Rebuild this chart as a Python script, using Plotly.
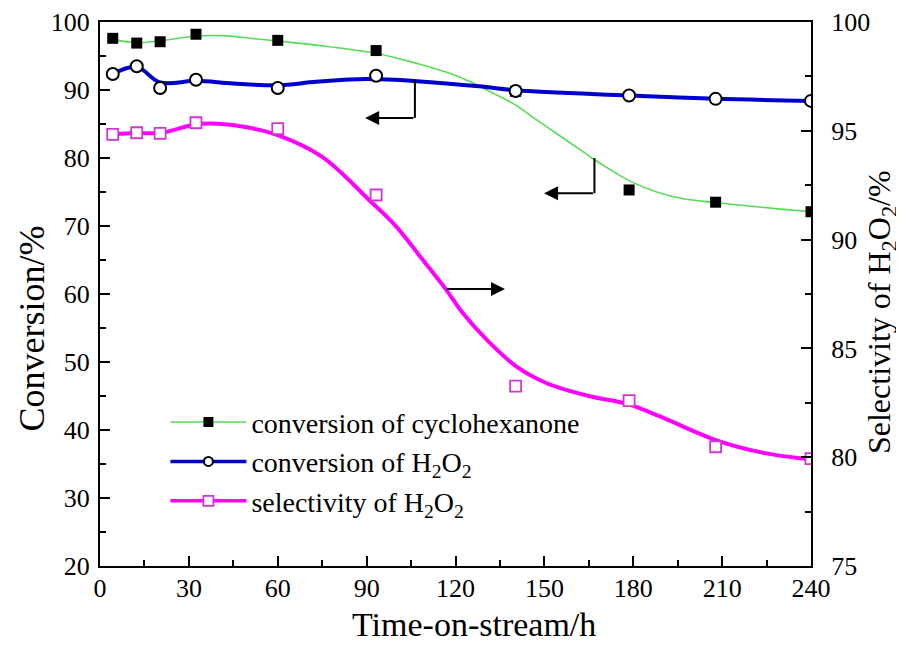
import plotly.graph_objects as go

# ---- data ----
time_pts = [4.3, 12.4, 20.3, 32.4, 60, 93.2, 140.3, 178.6, 207.8, 240]
conv_cyclo = [97.6, 96.9, 97.1, 98.2, 97.3, 95.8, 89.8, 75.3, 73.5, 72.1]
conv_h2o2 = [92.35, 93.5, 90.3, 91.5, 90.3, 92.1, 89.85, 89.2, 88.7, 88.4]
sel_h2o2 = [94.84, 94.91, 94.88, 95.37, 95.1, 92.05, 83.27, 82.6, 80.48, 79.93]

# smoothed curves as drawn in the reference
fit_t_cyclo = [4.3, 12.4, 20.3, 32.4, 41.6, 50.6, 60, 73, 93, 107, 118, 125, 130.5,
               139.5, 147.4, 156.4, 163.1, 167.1, 172.2, 178.9, 187.9, 196.9, 207.6,
               220, 230.6, 240]
fit_cyclo = [97.45, 96.96, 97.25, 97.94, 97.99, 97.6, 97.2, 96.6, 95.4, 93.9, 92.45,
             91.2, 90.0, 88.0, 85.6, 82.9, 80.9, 79.7, 78.3, 76.6, 75.0, 74.0, 73.45,
             72.9, 72.45, 72.1]

fit_t_h2o2 = [4.3, 12.4, 20.3, 32.4, 45, 60, 73, 90, 107, 129, 140.3, 178.6, 207.8, 240]
fit_h2o2 = [92.35, 93.4, 91.1, 91.35, 90.95, 90.7, 91.2, 91.6, 91.3, 90.5, 89.95,
            89.2, 88.7, 88.4]

fit_t_sel = [4.3, 12.4, 20.3, 32.4, 40, 50, 60, 75, 91, 100, 109, 116.5, 122.6, 130.5,
             140.6, 150.8, 165.4, 178, 189.4, 207.6, 224, 240]
fit_sel = [94.84, 94.9, 94.9, 95.3, 95.32, 95.15, 94.8, 93.8, 91.8, 90.6, 89.06, 87.76,
           86.6, 85.4, 84.16, 83.4, 82.8, 82.45, 81.85, 80.8, 80.2, 79.9]

x_ticks = [0, 30, 60, 90, 120, 150, 180, 210, 240]
y_ticks = [20, 30, 40, 50, 60, 70, 80, 90, 100]
y2_ticks = [75, 80, 85, 90, 95, 100]

names = ["conversion of cyclohexanone",
         "conversion of H<sub>2</sub>O<sub>2</sub>",
         "selectivity of H<sub>2</sub>O<sub>2</sub>"]
x_title = "Time-on-stream/h"
y_title = "Conversion/%"
y2_title = "Selectivity of H<sub>2</sub>O<sub>2</sub>/%"

# ---- styles ----
GREEN = "#55dd55"
BLUE = "#0000cc"
MAGENTA = "#ff00ff"
MAG_MK = "#d236d2"
FONT = "Liberation Serif"

fig = go.Figure()

# fitted curves
fig.add_trace(go.Scatter(x=fit_t_cyclo, y=fit_cyclo, mode="lines", line_shape="spline",
                         line=dict(color=GREEN, width=1.6), showlegend=False, hoverinfo="skip"))
fig.add_trace(go.Scatter(x=fit_t_h2o2, y=fit_h2o2, mode="lines", line_shape="spline",
                         line=dict(color=BLUE, width=4), showlegend=False, hoverinfo="skip"))
# data markers
fig.add_trace(go.Scatter(x=time_pts, y=conv_cyclo, mode="markers",
                         marker=dict(symbol="square", size=11, color="black"),
                         showlegend=False))
fig.add_trace(go.Scatter(x=time_pts, y=conv_h2o2, mode="markers",
                         marker=dict(symbol="circle", size=12, color="white",
                                     line=dict(color="black", width=2)),
                         showlegend=False))
fig.add_trace(go.Scatter(x=fit_t_sel, y=fit_sel, mode="lines", line_shape="spline",
                         line=dict(color=MAGENTA, width=4), showlegend=False,
                         hoverinfo="skip", yaxis="y2"))
fig.add_trace(go.Scatter(x=time_pts, y=sel_h2o2, mode="markers",
                         marker=dict(symbol="square", size=11, color="white",
                                     line=dict(color=MAG_MK, width=1.8)),
                         showlegend=False, yaxis="y2"))

# legend entries
fig.add_trace(go.Scatter(x=[None], y=[None], mode="lines+markers", name=names[0],
                         line=dict(color=GREEN, width=1.6),
                         marker=dict(symbol="square", size=10, color="black")))
fig.add_trace(go.Scatter(x=[None], y=[None], mode="lines+markers", name=names[1],
                         line=dict(color=BLUE, width=3.5),
                         marker=dict(symbol="circle", size=9, color="white",
                                     line=dict(color="black", width=2))))
fig.add_trace(go.Scatter(x=[None], y=[None], mode="lines+markers", name=names[2],
                         line=dict(color=MAGENTA, width=3.5),
                         marker=dict(symbol="square", size=10, color="white",
                                     line=dict(color=MAG_MK, width=1.8))))

# arrow indicators
arrow_h2o2 = dict(x=106.3, y_top=91.5, y_bot=85.9, tip=89.5)
arrow_cyclo = dict(x=166.9, y_top=80.0, y_bot=74.8, tip=149.9)
arrow_sel = dict(x0=116.5, tip=136.7, y=87.73)

shapes = []
for a in (arrow_h2o2, arrow_cyclo):
    shapes.append(dict(type="line", xref="x", yref="y", x0=a["x"], x1=a["x"],
                       y0=a["y_top"], y1=a["y_bot"], line=dict(color="black", width=2)))
annotations = []
for a in (arrow_h2o2, arrow_cyclo):
    annotations.append(dict(x=a["tip"], y=a["y_bot"], ax=a["x"], ay=a["y_bot"],
                            xref="x", yref="y", axref="x", ayref="y", text="",
                            showarrow=True, arrowhead=2, arrowsize=1.4, arrowwidth=2,
                            arrowcolor="black"))
annotations.append(dict(x=arrow_sel["tip"], y=arrow_sel["y"], ax=arrow_sel["x0"],
                        ay=arrow_sel["y"], xref="x", yref="y2", axref="x", ayref="y2",
                        text="", showarrow=True, arrowhead=2, arrowsize=1.4,
                        arrowwidth=2, arrowcolor="black"))

# axis titles placed as in the reference
annotations.append(dict(text=x_title, xref="paper", yref="paper", x=0.526, y=-0.108,
                        xanchor="center", yanchor="middle", showarrow=False,
                        font=dict(family=FONT, size=34, color="black")))
annotations.append(dict(text=y_title, xref="paper", yref="paper", x=-0.096, y=0.436,
                        xanchor="center", yanchor="middle", showarrow=False, textangle=-90,
                        font=dict(family=FONT, size=36, color="black")))
annotations.append(dict(text=y2_title, xref="paper", yref="paper", x=1.1, y=0.467,
                        xanchor="center", yanchor="middle", showarrow=False, textangle=-90,
                        font=dict(family=FONT, size=32, color="black")))

axis_common = dict(showgrid=False, zeroline=False, showline=True, linecolor="black",
                   linewidth=2, ticks="inside", ticklen=10, tickwidth=2, automargin=False,
                   tickcolor="black", tickfont=dict(family=FONT, size=26, color="black"))

# the page body adds an 8 px offset, so margins are set to place the plot area
# at the same screen position as in the reference
fig.update_layout(
    width=904, height=650,
    margin=dict(l=92, r=101, t=14, b=92),
    paper_bgcolor="white", plot_bgcolor="white",
    font=dict(family=FONT, color="black"),
    xaxis=dict(range=[0, 240], tickvals=x_ticks, mirror=True, ticklabelstandoff=-2,
               minor=dict(dtick=15, tick0=0, ticks="inside", ticklen=6, tickwidth=2,
                          tickcolor="black"),
               **axis_common),
    yaxis=dict(range=[20, 100], tickvals=y_ticks, ticklabelstandoff=3,
               minor=dict(dtick=5, tick0=0, ticks="inside", ticklen=6, tickwidth=2,
                          tickcolor="black"),
               **axis_common),
    yaxis2=dict(range=[75, 100], tickvals=y2_ticks, overlaying="y", side="right",
                ticklabelstandoff=13,
                minor=dict(dtick=2.5, tick0=0, ticks="inside", ticklen=6, tickwidth=2,
                           tickcolor="black"),
                **axis_common),
    legend=dict(x=0.092, y=0.31, xanchor="left", yanchor="top", bgcolor="rgba(0,0,0,0)",
                font=dict(family=FONT, size=28, color="black"), itemwidth=76,
                tracegroupgap=0),
    shapes=shapes,
    annotations=annotations,
)

fig.write_html("out.html")
